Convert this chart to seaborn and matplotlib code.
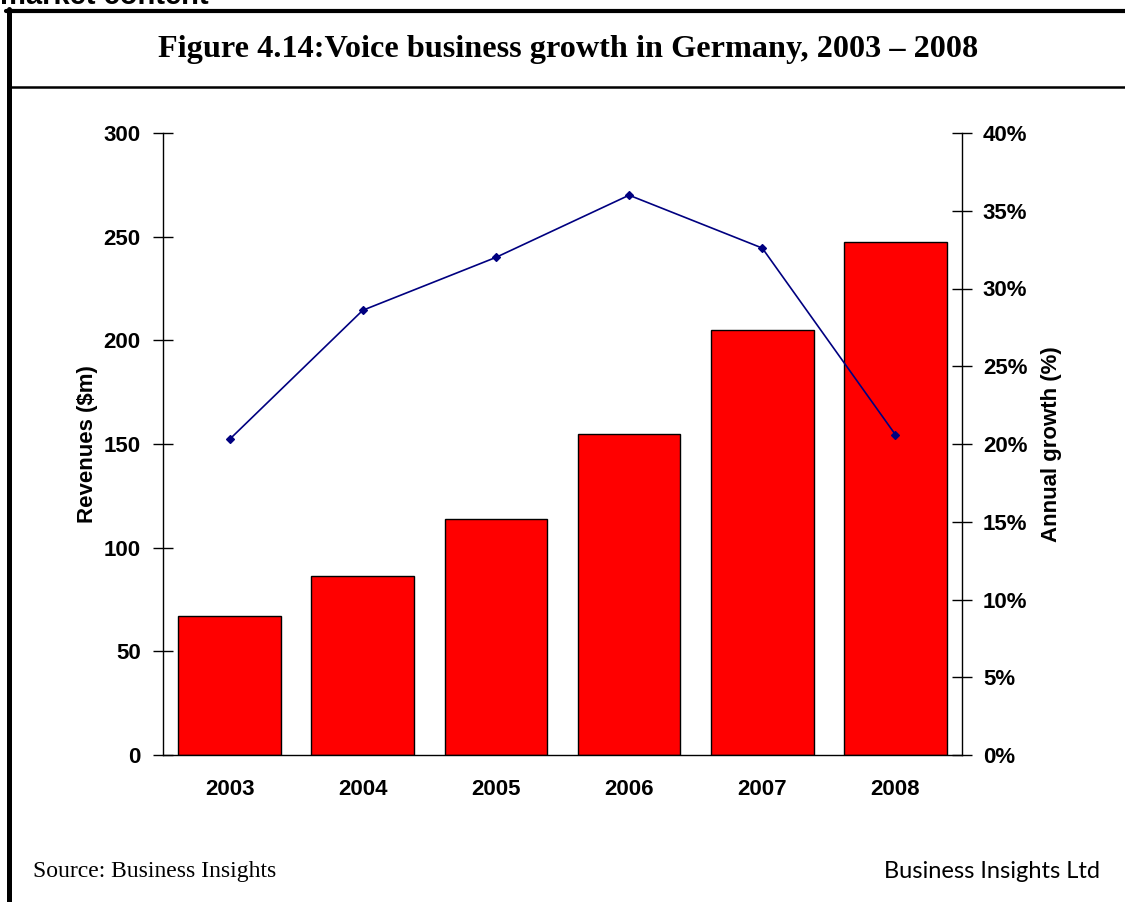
import numpy as np
import pandas as pd
import matplotlib
matplotlib.use("Agg")
import matplotlib.pyplot as plt
from matplotlib.lines import Line2D
import seaborn as sns

# Data
years = ["2003", "2004", "2005", "2006", "2007", "2008"]
revenues = [67.0, 86.3, 113.8, 154.8, 205.0, 247.5]      # $m
growth = [20.3, 28.6, 32.0, 36.0, 32.6, 20.6]            # annual growth, %
rev_ticks = [0, 50, 100, 150, 200, 250, 300]
growth_ticks = [0, 5, 10, 15, 20, 25, 30, 35, 40]

sns.set_theme(style="white")
plt.rcParams["font.family"] = ["Liberation Sans", "DejaVu Sans"]
plt.rcParams["text.color"] = "black"
plt.rcParams["axes.labelcolor"] = "black"
plt.rcParams["xtick.color"] = "black"
plt.rcParams["ytick.color"] = "black"

W, H = 1125, 902
fig = plt.figure(figsize=(W / 100, H / 100), dpi=100)
fig.patch.set_facecolor("white")

def fx(px):
    return px / W

def fy(py):
    return 1 - py / H

# Page frame
fig.add_artist(Line2D([fx(6), fx(W)], [fy(11), fy(11)], color="black", lw=3.0))
fig.add_artist(Line2D([fx(8.5), fx(8.5)], [fy(9), fy(H)], color="black", lw=3.6))
fig.add_artist(Line2D([fx(8), fx(W)], [fy(87), fy(87)], color="black", lw=1.8))

# Section heading, running off the top edge of the page
fig.text(fx(0), fy(4), "market content", fontsize=21, fontweight="bold",
         ha="left", va="baseline")

fig.text(fx(568), fy(50), "Figure 4.14:Voice business growth in Germany, 2003 \u2013 2008",
         fontsize=23.2, fontweight="bold", family=["Liberation Serif", "DejaVu Serif"],
         ha="center", va="center")

# Plot area
left, right, top, bottom = 163, 962, 133, 755
ax = fig.add_axes([fx(left), fy(bottom), fx(right - left), (bottom - top) / H])

df = pd.DataFrame({"year": years, "revenue": revenues, "growth": growth})

sns.barplot(data=df, x="year", y="revenue", ax=ax, color="#FF0000",
            saturation=1, edgecolor="black", linewidth=1.0, width=0.77)
ax.set_ylim(0, 300)
ax.set_xlim(-0.5, len(years) - 0.5)
ax.set_yticks(rev_ticks)
ax.set_yticklabels([str(t) for t in rev_ticks], fontsize=16, fontweight="bold")
ax.set_xticks(range(len(years)))
ax.set_xticklabels(years, fontsize=16, fontweight="bold")
ax.set_xticks(np.arange(-0.5, len(years), 1), minor=True)
ax.tick_params(axis="x", which="major", length=0, pad=17)
ax.tick_params(axis="x", which="minor", direction="inout", length=14, width=1.0, color="black")
ax.tick_params(axis="y", direction="inout", length=14, width=1.0, color="black", pad=9, left=True)
ax.set_xlabel("")
ax.set_ylabel("Revenues ($m)", fontsize=16, fontweight="bold", labelpad=4)
for s in ["top", "right"]:
    ax.spines[s].set_visible(False)
for s in ["left", "bottom"]:
    ax.spines[s].set_color("black")
    ax.spines[s].set_linewidth(1.0)
ax.set_facecolor("none")

# Growth line on secondary axis
ax2 = ax.twinx()
sns.pointplot(data=df, x="year", y="growth", ax=ax2, color="#000080",
              markers="D", markersize=4, linewidth=1.2)
ax2.set_xlim(-0.5, len(years) - 0.5)
ax2.set_ylim(0, 40)
ax2.set_yticks(growth_ticks)
ax2.set_yticklabels([f"{t}%" for t in growth_ticks], fontsize=16, fontweight="bold")
ax2.tick_params(axis="y", direction="inout", length=14, width=1.0, color="black", pad=8, right=True)
ax2.set_ylabel("Annual growth (%)", fontsize=16, fontweight="bold", labelpad=10)
ax2.set_xlabel("")
for s in ["top", "left", "bottom"]:
    ax2.spines[s].set_visible(False)
ax2.spines["right"].set_color("black")
ax2.spines["right"].set_linewidth(1.0)

# Footer
fig.text(fx(33), fy(871), "Source: Business Insights", fontsize=17,
         family=["Liberation Serif", "DejaVu Serif"], ha="left", va="center")
fig.text(fx(1100), fy(871), "Business Insights Ltd", fontsize=17,
         family=["Lato", "DejaVu Sans"], ha="right", va="center")

fig.savefig("out.png", dpi=100, facecolor="white")
